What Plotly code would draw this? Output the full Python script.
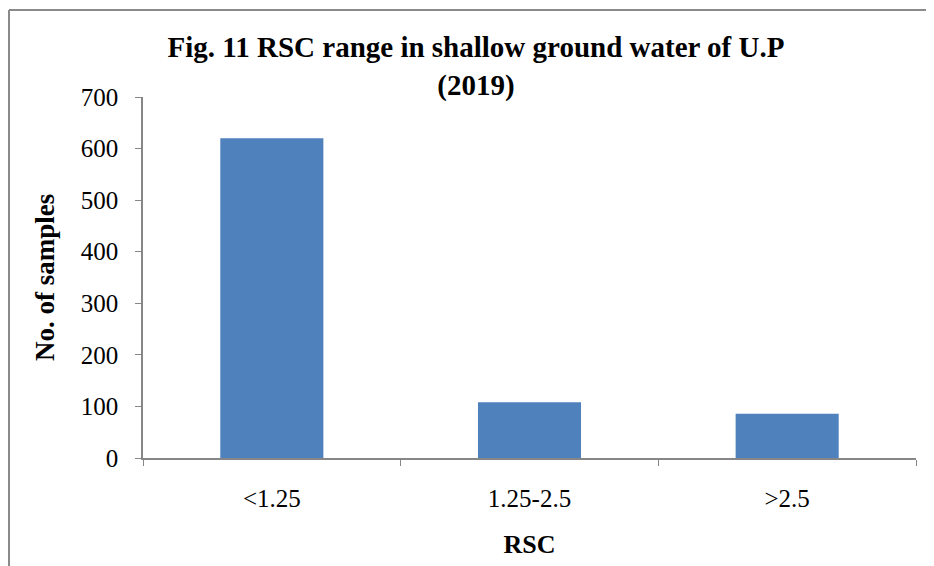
import plotly.graph_objects as go

categories = ["<1.25", "1.25-2.5", ">2.5"]
samples = [620, 108, 86]

SERIF = "Liberation Serif"
# page has an 8px body margin; figure placed at (8, 8)
W, H = 926, 558
L, R, T, B = 135, 18, 89, 108
pw, ph = W - L - R, H - T - B

fig = go.Figure(go.Bar(x=categories, y=samples, marker_color="#4f81bd",
                       marker_line_width=0, width=0.4))

def px_x(p):
    return (p - L) / pw

def px_y(p):
    return (H - B - p) / ph

fig.update_layout(
    width=W, height=H,
    margin=dict(l=L, r=R, t=T, b=B),
    plot_bgcolor="white", paper_bgcolor="white",
    font=dict(family=SERIF, color="black", size=25),
    title=dict(text="<b>Fig. 11 RSC range in shallow ground water of U.P<br>(2019)</b>",
               x=468 / W, xanchor="center", y=1 - 49 / H, yanchor="middle",
               font=dict(family=SERIF, size=29, color="black")),
    showlegend=False,
    shapes=[
        dict(type="line", xref="paper", yref="paper",
             x0=px_x(1), x1=px_x(1), y0=px_y(2), y1=px_y(600),
             line=dict(color="#8a8a8a", width=2)),
        dict(type="line", xref="paper", yref="paper",
             x0=px_x(1), x1=px_x(960), y0=px_y(2), y1=px_y(2),
             line=dict(color="#8a8a8a", width=2)),
    ],
)
fig.update_xaxes(
    showline=True, linecolor="#868686", linewidth=1.5,
    ticks="outside", ticklen=6, tickcolor="#868686", tickson="boundaries",
    showgrid=False, tickfont=dict(family=SERIF, size=25, color="black"),
    ticklabelstandoff=17,
    title=dict(text="<b>RSC</b>", font=dict(family=SERIF, size=26, color="black"), standoff=24),
)
fig.update_yaxes(
    range=[0, 700], dtick=100, showline=True, linecolor="#868686", linewidth=1.5,
    ticks="outside", ticklen=6, tickcolor="#868686",
    showgrid=False, zeroline=False, tickfont=dict(family=SERIF, size=25, color="black"),
    ticklabelstandoff=12,
    title=dict(text="<b>No. of samples</b>", font=dict(family=SERIF, size=27, color="black"), standoff=18),
)

fig.write_html("out.html")
